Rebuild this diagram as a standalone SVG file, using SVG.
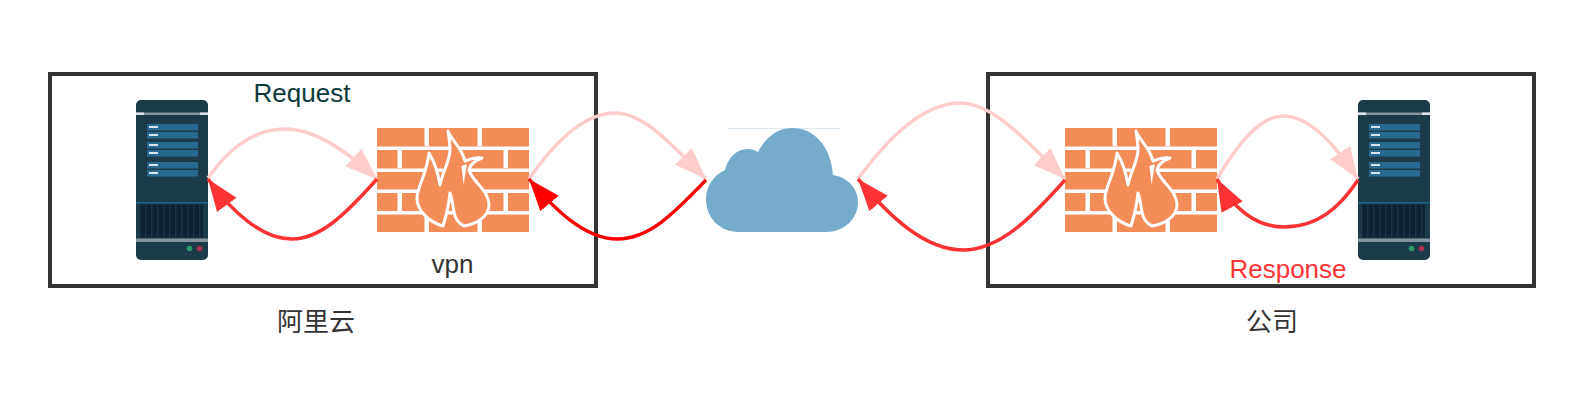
<svg xmlns="http://www.w3.org/2000/svg" width="1584" height="408" viewBox="0 0 1584 408">
<style>
.box{fill:none;stroke:#333;stroke-width:4}
.c{fill:none;stroke-width:3.500}
.pink{stroke:#fcc;marker-end:url(#aPink)}
.red{stroke:#f33;marker-end:url(#aRed)}
.pure{stroke:#f00;marker-end:url(#aPure)}
.t{font-family:"Liberation Sans","Noto Sans CJK SC",sans-serif;font-size:26px;fill:#333;text-anchor:middle}
.soft{filter:url(#soft)}
.brick{fill:#f38d58}
.mortar{fill:#fff}
.row{fill:#256a92}
.lbl{fill:#d8e4ea}
</style>
<defs>
<filter id="soft" x="-5%" y="-5%" width="110%" height="110%"><feGaussianBlur stdDeviation="0.7"/></filter>
<marker id="aPink" markerUnits="userSpaceOnUse" markerWidth="35" markerHeight="26" refX="32" refY="12" orient="auto"><path d="M0 0L32 12L0 24Z" fill="#fcc"/></marker>
<marker id="aRed" markerUnits="userSpaceOnUse" markerWidth="35" markerHeight="26" refX="32" refY="12" orient="auto"><path d="M0 0L32 12L0 24Z" fill="#f33"/></marker>
<marker id="aPure" markerUnits="userSpaceOnUse" markerWidth="35" markerHeight="26" refX="32" refY="12" orient="auto"><path d="M0 0L32 12L0 24Z" fill="#f00"/></marker>
<pattern id="grille" patternUnits="userSpaceOnUse" width="6" height="34"><rect width="6" height="34" fill="#0d2030"/><rect x="3" width="1.500" height="34" fill="#1c3445"/></pattern>
<symbol id="server" width="72" height="160" viewBox="0 0 72 160" overflow="visible">
<g class="soft">
<rect width="72" height="160" rx="5" fill="#1f3a4a"/>
<rect y="12.500" width="72" height="2.500" fill="#84939c"/>
<rect y="12.500" width="8" height="2.500" fill="#dfe4e7"/><rect x="64" y="12.500" width="8" height="2.500" fill="#dfe4e7"/>
<rect class="row" x="11" y="24" width="51" height="6.500"/><rect class="row" x="11" y="32" width="51" height="6.500"/>
<rect class="row" x="11" y="42" width="51" height="6.500"/><rect class="row" x="11" y="50" width="51" height="6.500"/>
<rect class="row" x="11" y="62" width="51" height="6.500"/><rect class="row" x="11" y="70" width="51" height="6.500"/>
<rect class="lbl" x="13" y="26" width="9" height="2"/><rect class="lbl" x="13" y="34" width="9" height="2"/>
<rect class="lbl" x="13" y="44" width="9" height="2"/><rect class="lbl" x="13" y="52" width="9" height="2"/>
<rect class="lbl" x="13" y="64" width="9" height="2"/><rect class="lbl" x="13" y="72" width="9" height="2"/>
<rect y="102" width="72" height="1.500" fill="#1f6585"/>
<rect x="4" y="104.500" width="63" height="33" fill="url(#grille)"/>
<rect y="138.500" width="72" height="3.500" fill="#84939c"/>
<circle cx="53.500" cy="148.500" r="2.800" fill="#2f9a6a"/>
<circle cx="63.500" cy="148.500" r="2.800" fill="#a83050"/>
</g>
</symbol>
<symbol id="firewall" width="152" height="104" viewBox="0 0 152 104" overflow="visible">
<rect class="brick" width="152" height="104"/>
<g class="soft">
<rect class="mortar" y="18.500" width="152" height="3.500"/><rect class="mortar" y="40.500" width="152" height="3.500"/>
<rect class="mortar" y="61.500" width="152" height="3.500"/><rect class="mortar" y="83" width="152" height="3.500"/>
<rect class="mortar" x="47.500" width="4.500" height="18"/><rect class="mortar" x="100.500" width="4.500" height="18"/>
<rect class="mortar" x="47.500" y="87" width="4.500" height="17"/><rect class="mortar" x="100.500" y="87" width="4.500" height="17"/>
<rect class="mortar" x="20.500" y="22" width="4.500" height="18"/><rect class="mortar" x="126.500" y="22" width="4.500" height="18"/>
<rect class="mortar" x="20.500" y="65" width="4.500" height="18"/><rect class="mortar" x="126.500" y="65" width="4.500" height="18"/>
<path class="brick" stroke="#fff" stroke-width="3" stroke-linejoin="round" d="M71 3C74 12 84 18 88 33C93 31 99 29 105 30C97 33 93 37 92 42C96 55 112 62 112 77C112 88 100 96 87 98C81 95 78 90 77 84C76 78 75 71 73 65C72 74 70 86 66 98C52 94 40 83 40 70C40 60 50 45 52 25C57 33 61 45 63 57C65 45 73 33 73 22C73 15 72 9 71 3Z"/>
<path fill="#fff" d="M90 36L86.500 57L84.500 38Z"/>
</g>
</symbol>
</defs>
<g id="box-aliyun"><rect class="box" x="50" y="74" width="546" height="212"/></g>
<g id="box-company"><rect class="box" x="988" y="74" width="546" height="212"/></g>
<g id="server-aliyun"><use href="#server" x="136" y="100"/></g>
<g id="firewall-aliyun"><use href="#firewall" x="377" y="128"/></g>
<g id="cloud" transform="translate(706 128)"><g class="soft">
<rect x="21" y="0" width="113" height="1" fill="#dcebf3"/>
<path fill="#74abcd" d="M33 104C14 104 0 90 0 71C0 58 8 47 19 42C22 30 30 21 42 21C46 21 49 22 52 24C59 10 71 0 86 0C108 0 125 18 127 47C141 49 152 60 152 74C152 91 138 104 120 104Z"/>
</g></g>
<g id="firewall-company"><use href="#firewall" x="1065" y="128"/></g>
<g id="server-company"><use href="#server" x="1358" y="100"/></g>
<g id="connectors">
<path class="c pink" d="M208 178C232 144 258 129 285 129C315 129 345 150 377 179"/>
<path class="c red" d="M377 179C345 215 320 239 292 239C262 239 232 212 208 179"/>
<path class="c pink" d="M529 179C556 140 585 113 615 113C645 113 675 148 706 179"/>
<path class="c pure" d="M706 180C675 212 650 239 617 239C585 239 555 210 529 179"/>
<path class="c pink" d="M858 179C890 135 925 103 960 103C995 103 1030 145 1065 179"/>
<path class="c red" d="M1065 180C1032 217 1000 250 963 250C925 250 890 217 858 179"/>
<path class="c pink" d="M1217 179C1235 148 1258 116 1283 116C1310 116 1335 145 1358 179"/>
<path class="c red" d="M1358 180C1340 207 1318 227 1284 227C1255 227 1232 207 1217 179"/>
</g>
<g id="labels">
<text class="t" x="302" y="102" style="fill:#0b3a3a">Request</text>
<text class="t" x="452.500" y="273">vpn</text>
<text class="t" x="1288" y="278" style="fill:#f33">Response</text>
<text class="t" x="316" y="331">阿里云</text>
<text class="t" x="1272" y="331">公司</text>
</g>
</svg>
